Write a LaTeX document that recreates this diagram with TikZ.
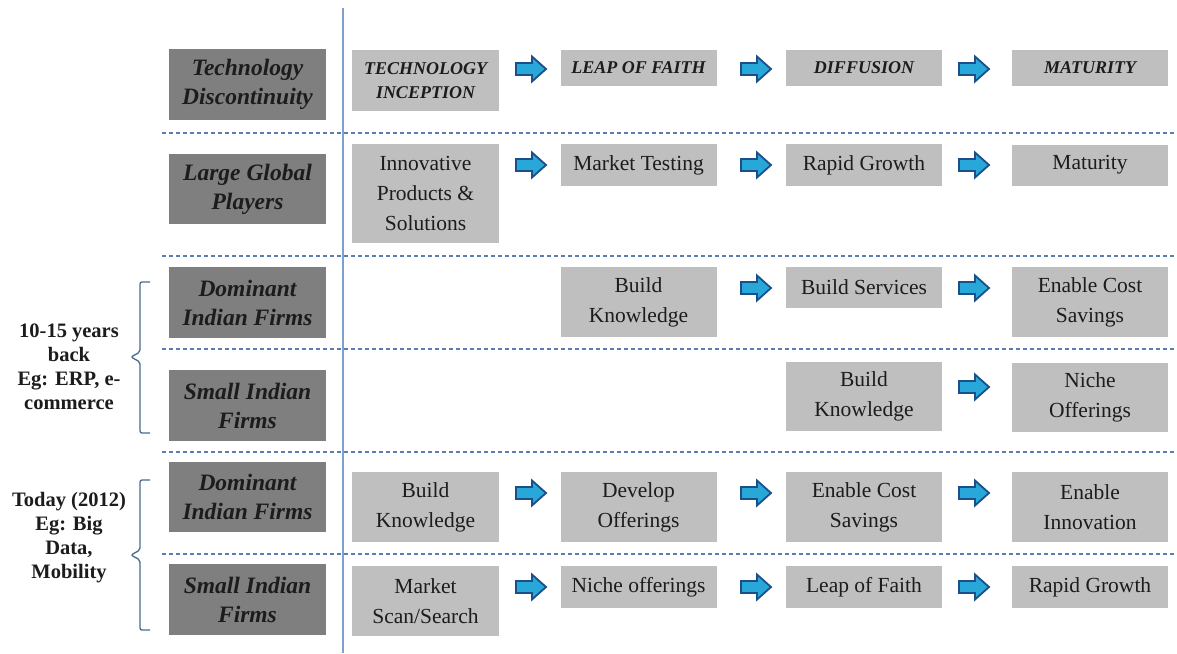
\documentclass[tikz,border=0pt]{standalone}
\usepackage{fontspec}
\setmainfont{Liberation Serif}
\definecolor{hdrgray}{HTML}{7F7F7F}
\definecolor{boxgray}{HTML}{BFBFBF}
\definecolor{txtdark}{HTML}{1C1C1C}
\definecolor{sepblue}{HTML}{5B7DB5}
\definecolor{vblue}{HTML}{7F9FCF}
\definecolor{arrfill}{HTML}{28A8D8}
\definecolor{arrline}{HTML}{1B4F8A}
\definecolor{bracec}{HTML}{4A6A8E}
\newcommand{\blockarr}[2]{\draw[arrst] (#1,#2) ++(-15,-6) -- ++(16,0) -- ++(0,-6.5) -- ++(14,12.5) -- ++(-14,12.5) -- ++(0,-6.5) -- ++(-16,0) -- cycle;}
\begin{document}
\begin{tikzpicture}[x=1pt,y=-1pt,
  hdr/.style={fill=hdrgray, minimum width=157, inner sep=0, align=center,
    font=\fontsize{23.5}{29}\selectfont\bfseries\itshape, text=txtdark},
  cbox/.style={fill=boxgray, inner sep=0, align=center,
    font=\fontsize{21.5}{30}\selectfont, text=txtdark},
  capbox/.style={cbox, font=\fontsize{18}{24}\selectfont\bfseries\itshape},
  wa/.style={minimum width=147},
  wb/.style={minimum width=156},
  side/.style={align=center, inner sep=0, font=\fontsize{20.5}{24}\selectfont\bfseries, text=txtdark},
  sepline/.style={draw=sepblue, line width=1.2pt, dash pattern=on 4pt off 3pt},
  arrst/.style={fill=arrfill, draw=arrline, line width=1.8pt, line join=miter},
  bracest/.style={draw=bracec, line width=1.3pt, rounded corners=2pt}]
\useasboundingbox (0,0) rectangle (1177,653);
\fill[white] (0,0) rectangle (1177,653);

% separators
\draw[sepline] (162,133) -- (1177,133);
\draw[sepline] (162,256) -- (1177,256);
\draw[sepline] (162,349) -- (1177,349);
\draw[sepline] (162,452) -- (1177,452);
\draw[sepline] (162,554) -- (1177,554);
\draw[vblue, line width=2pt] (343,8) -- (343,653);

% row headers
\node[hdr, minimum height=71] (h1) at (247.5,84.5) {Technology\\Discontinuity};
\node[hdr, minimum height=70] (h2) at (247.5,189) {Large Global\\Players};
\node[hdr, minimum height=71] (h3) at (247.5,302.5) {Dominant\\Indian Firms};
\node[hdr, minimum height=71] (h4) at (247.5,405.5) {Small Indian\\Firms};
\node[hdr, minimum height=70] (h5) at (247.5,497) {Dominant\\Indian Firms};
\node[hdr, minimum height=71] (h6) at (247.5,599.5) {Small Indian\\Firms};

% row 1
\node[capbox, wa, minimum height=61] (r1c1) at (425.5,80.5) {TECHNOLOGY\\INCEPTION};
\node[capbox, wb, minimum height=36] (r1c2) at (638.5,68) {LEAP OF FAITH};
\node[capbox, wb, minimum height=36] (r1c3) at (864,68) {DIFFUSION};
\node[capbox, wb, minimum height=36] (r1c4) at (1090,68) {MATURITY};
% row 2
\node[cbox, wa, minimum height=99] (r2c1) at (425.5,193.5) {Innovative\\Products \&\\Solutions};
\node[cbox, wb, minimum height=42] (r2c2) at (638.5,165) {Market Testing};
\node[cbox, wb, minimum height=42] (r2c3) at (864,165) {Rapid Growth};
\node[cbox, wb, minimum height=41] (r2c4) at (1090,165) {Maturity};
% row 3
\node[cbox, wb, minimum height=70] (r3c2) at (638.5,302) {Build\\Knowledge};
\node[cbox, wb, minimum height=41] (r3c3) at (864,287.5) {Build Services};
\node[cbox, wb, minimum height=70] (r3c4) at (1090,302) {Enable Cost\\Savings};
% row 4
\node[cbox, wb, minimum height=69] (r4c3) at (864,396.5) {Build\\Knowledge};
\node[cbox, wb, minimum height=69] (r4c4) at (1090,397) {Niche\\Offerings};
% row 5
\node[cbox, wa, minimum height=70] (r5c1) at (425.5,507) {Build\\Knowledge};
\node[cbox, wb, minimum height=70] (r5c2) at (638.5,507) {Develop\\Offerings};
\node[cbox, wb, minimum height=70] (r5c3) at (864,507) {Enable Cost\\Savings};
\node[cbox, wb, minimum height=70] (r5c4) at (1090,507) {Enable\\Innovation};
% row 6
\node[cbox, wa, minimum height=70] (r6c1) at (425.5,601) {Market\\Scan/Search};
\node[cbox, wb, minimum height=42] (r6c2) at (638.5,587) {Niche offerings};
\node[cbox, wb, minimum height=42] (r6c3) at (864,587) {Leap of Faith};
\node[cbox, wb, minimum height=42] (r6c4) at (1090,587) {Rapid Growth};

% arrows
\blockarr{531}{69}\blockarr{756}{69}\blockarr{974}{69}
\blockarr{531}{165}\blockarr{756}{165}\blockarr{974}{165}
\blockarr{756}{288}\blockarr{974}{288}
\blockarr{974}{387}
\blockarr{531}{493}\blockarr{756}{493}\blockarr{974}{493}
\blockarr{531}{587}\blockarr{756}{587}\blockarr{974}{587}

% braces and side labels
\draw[bracest] (150,282) -- (140,282) -- (140,352) -- (131,357) -- (140,362) -- (140,433) -- (150,433);
\draw[bracest] (150,480) -- (140,480) -- (140,550) -- (131,555) -- (140,560) -- (140,630) -- (150,630);
\node[side] (t1) at (69,367) {10-15 years\\back\\Eg: ERP, e-\\commerce};
\node[side] (t2) at (69,538) {Today (2012)\\Eg: Big\\Data,\\Mobility};
\end{tikzpicture}
\end{document}
